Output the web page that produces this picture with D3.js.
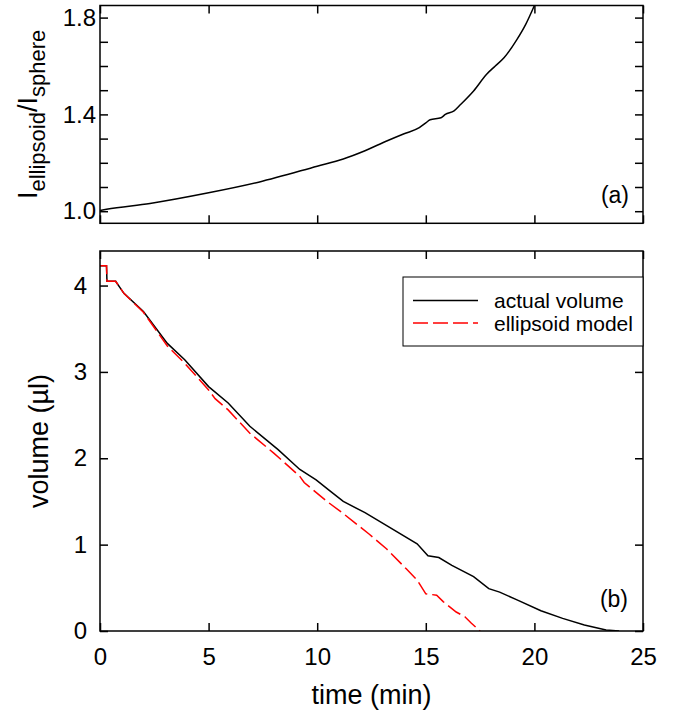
<!DOCTYPE html>
<head>
    <meta charset="utf-8">
    <script src="https://d3js.org/d3.v7.min.js"></script>
    <style>
      body { margin: 0; background: #fff; }
      text {
        font-family: "Liberation Sans", Arial, sans-serif;
        fill: #000;
      }
      .ticklabel { font-size: 24px; }
      .axistitle { font-size: 27px; }
      .legendtext { font-size: 21px; }
      .panellabel { font-size: 23px; }
    </style>
</head>
<body>
    <script>
        // panel (a): intensity ratio vs time
        var timeA  = [0, 0.3, 2.3, 5.0, 7.3, 10, 11.2, 12.2, 13.2, 14.0, 14.7, 15.0, 15.2, 15.7, 15.9, 16.3, 16.6, 17.2, 17.8, 18.2, 18.6, 19.2, 19.6, 20.0];
        var ratioA = [1.003, 1.008, 1.032, 1.076, 1.12, 1.186, 1.216, 1.25, 1.29, 1.32, 1.345, 1.365, 1.378, 1.386, 1.40, 1.415, 1.441, 1.497, 1.566, 1.60, 1.634, 1.71, 1.772, 1.85];

        // panel (b): actual volume
        var timeActual = [0, 0.3, 0.32, 0.72, 1.1, 2.0, 3.1, 3.9, 5.0, 5.9, 6.9, 8.2, 9.2, 9.95, 10.6, 11.2, 12.2, 13.2, 14.6, 15.1, 15.6, 16.2, 17.2, 17.9, 18.4, 19.2, 20.3, 21.3, 22.3, 23.3, 23.9];
        var volActual  = [4.23, 4.23, 4.05, 4.05, 3.91, 3.70, 3.33, 3.14, 2.83, 2.64, 2.37, 2.10, 1.87, 1.75, 1.62, 1.50, 1.37, 1.22, 1.01, 0.87, 0.85, 0.76, 0.63, 0.49, 0.45, 0.36, 0.235, 0.146, 0.07, 0.012, 0];

        // panel (b): ellipsoid model
        var timeModel = [0, 0.3, 0.32, 0.72, 1.1, 2.0, 3.1, 3.9, 5.0, 5.3, 5.9, 6.9, 8.0, 9.2, 9.4, 10.4, 11.2, 12.4, 13.2, 14.1, 14.6, 15.0, 15.5, 15.8, 16.4, 16.8, 17.1, 17.5];
        var volModel  = [4.23, 4.23, 4.05, 4.05, 3.91, 3.69, 3.30, 3.10, 2.79, 2.69, 2.56, 2.29, 2.06, 1.79, 1.72, 1.51, 1.36, 1.12, 0.95, 0.72, 0.59, 0.43, 0.415, 0.34, 0.22, 0.165, 0.09, 0];

        var xTicks = [0, 5, 10, 15, 20, 25];
        var yTicksA = [1.0, 1.1, 1.2, 1.3, 1.4, 1.5, 1.6, 1.7, 1.8];
        var yLabelsA = [1.0, 1.4, 1.8];
        var yTicksB = [0, 1, 2, 3, 4];
        var legendNames = ["actual volume", "ellipsoid model"];

        var svg_w = 674, svg_h = 716;
        var left = 100, right = 643;
        var topA = 5.5, bottomA = 223.3;
        var topB = 251, bottomB = 631;

        var svgContainer = d3.select("body")
          .append("svg")
          .attr("width", svg_w)
          .attr("height", svg_h);

        var x = d3.scaleLinear().domain([0, 25]).range([left, right]);
        var yA = d3.scaleLinear().domain([0.95, 1.85]).range([bottomA, topA]);
        var yB = d3.scaleLinear().domain([0, 4.4]).range([bottomB, topB]);

        svgContainer.append("clipPath").attr("id", "clipA")
          .append("rect").attr("x", left).attr("y", topA)
          .attr("width", right - left).attr("height", bottomA - topA);
        svgContainer.append("clipPath").attr("id", "clipB")
          .append("rect").attr("x", left).attr("y", topB)
          .attr("width", right - left).attr("height", bottomB - topB);

        function styleAxis(g) {
          g.select(".domain").remove();
          g.selectAll(".tick line").attr("stroke", "#000").attr("stroke-width", 1.5);
          g.selectAll(".tick text").attr("class", "ticklabel").attr("font-family", null).attr("font-size", null);
        }

        // ---- panel (a)
        var fmtA = d3.format(".1f");
        svgContainer.append("g")
          .attr("transform", "translate(" + left + ",0)")
          .call(d3.axisLeft(yA).tickValues(yTicksA).tickSize(-8).tickPadding(4)
            .tickFormat(function(d) { return yLabelsA.some(function(v) { return Math.abs(v - d) < 1e-6; }) ? fmtA(d) : ""; }))
          .call(styleAxis);
        svgContainer.append("g")
          .attr("transform", "translate(" + right + ",0)")
          .call(d3.axisRight(yA).tickValues(yTicksA).tickSize(-8).tickFormat(""))
          .call(styleAxis);
        svgContainer.append("g")
          .attr("transform", "translate(0," + bottomA + ")")
          .call(d3.axisBottom(x).tickValues(xTicks).tickSize(-8).tickFormat(""))
          .call(styleAxis);
        svgContainer.append("g")
          .attr("transform", "translate(0," + topA + ")")
          .call(d3.axisTop(x).tickValues(xTicks).tickSize(-8).tickFormat(""))
          .call(styleAxis);

        var lineA = d3.line()
          .x(function(d, i) { return x(timeA[i]); })
          .y(function(d) { return yA(d); })
          .curve(d3.curveMonotoneX);
        svgContainer.append("path")
          .datum(ratioA)
          .attr("clip-path", "url(#clipA)")
          .attr("fill", "none")
          .attr("stroke", "#000")
          .attr("stroke-width", 1.5)
          .attr("d", lineA);

        svgContainer.append("rect")
          .attr("x", left).attr("y", topA)
          .attr("width", right - left).attr("height", bottomA - topA)
          .attr("fill", "none").attr("stroke", "#000").attr("stroke-width", 1.5);

        svgContainer.append("text")
          .attr("class", "panellabel")
          .attr("x", 629).attr("y", 203)
          .attr("text-anchor", "end")
          .text("(a)");

        var titleA = svgContainer.append("text")
          .attr("class", "axistitle")
          .attr("font-size", "30px")
          .attr("text-anchor", "middle")
          .attr("transform", "translate(37," + ((topA + bottomA) / 2) + ") rotate(-90)");
        titleA.append("tspan").text("I");
        titleA.append("tspan").attr("dy", 8).attr("font-size", "22px").text("ellipsoid");
        titleA.append("tspan").attr("dy", -8).text("/I");
        titleA.append("tspan").attr("dy", 8).attr("font-size", "22px").text("sphere");

        // ---- panel (b)
        svgContainer.append("g")
          .attr("transform", "translate(" + left + ",0)")
          .call(d3.axisLeft(yB).tickValues(yTicksB).tickSize(-8).tickPadding(13).tickFormat(d3.format("d")))
          .call(styleAxis);
        svgContainer.append("g")
          .attr("transform", "translate(" + right + ",0)")
          .call(d3.axisRight(yB).tickValues(yTicksB).tickSize(-8).tickFormat(""))
          .call(styleAxis);
        svgContainer.append("g")
          .attr("transform", "translate(0," + bottomB + ")")
          .call(d3.axisBottom(x).tickValues(xTicks).tickSize(-8).tickPadding(17).tickFormat(d3.format("d")))
          .call(styleAxis);
        svgContainer.append("g")
          .attr("transform", "translate(0," + topB + ")")
          .call(d3.axisTop(x).tickValues(xTicks).tickSize(-8).tickFormat(""))
          .call(styleAxis);

        var lineActual = d3.line()
          .x(function(d, i) { return x(timeActual[i]); })
          .y(function(d) { return yB(d); });
        var lineModel = d3.line()
          .x(function(d, i) { return x(timeModel[i]); })
          .y(function(d) { return yB(d); });

        svgContainer.append("path")
          .datum(volActual)
          .attr("clip-path", "url(#clipB)")
          .attr("fill", "none")
          .attr("stroke", "#000")
          .attr("stroke-width", 1.5)
          .attr("d", lineActual);
        svgContainer.append("path")
          .datum(volModel)
          .attr("clip-path", "url(#clipB)")
          .attr("fill", "none")
          .attr("stroke", "#ff0000")
          .attr("stroke-width", 1.5)
          .attr("stroke-dasharray", "15,5")
          .attr("d", lineModel);

        svgContainer.append("rect")
          .attr("x", left).attr("y", topB)
          .attr("width", right - left).attr("height", bottomB - topB)
          .attr("fill", "none").attr("stroke", "#000").attr("stroke-width", 1.5);

        // legend
        var legend = svgContainer.append("g").attr("transform", "translate(403,277)");
        legend.append("rect")
          .attr("width", 240).attr("height", 69)
          .attr("fill", "#fff").attr("stroke", "#000").attr("stroke-width", 1);
        legend.selectAll(".legendline")
          .data(legendNames)
          .enter()
          .append("line")
          .attr("x1", 10).attr("x2", 75)
          .attr("y1", function(d, i) { return 23.5 + i * 22.5; })
          .attr("y2", function(d, i) { return 23.5 + i * 22.5; })
          .attr("stroke", function(d, i) { return i == 0 ? "#000" : "#ff0000"; })
          .attr("stroke-width", 1.5)
          .attr("stroke-dasharray", function(d, i) { return i == 0 ? null : "15,5"; });
        legend.selectAll(".legendtext")
          .data(legendNames)
          .enter()
          .append("text")
          .attr("class", "legendtext")
          .attr("x", 91)
          .attr("y", function(d, i) { return 31 + i * 22.5; })
          .text(function(d) { return d; });

        svgContainer.append("text")
          .attr("class", "panellabel")
          .attr("x", 628).attr("y", 607)
          .attr("text-anchor", "end")
          .text("(b)");

        svgContainer.append("text")
          .attr("class", "axistitle")
          .attr("font-size", "28px")
          .attr("text-anchor", "middle")
          .attr("transform", "translate(48," + ((topB + bottomB) / 2) + ") rotate(-90)")
          .text("volume (\u00b5l)");

        svgContainer.append("text")
          .attr("class", "axistitle")
          .attr("text-anchor", "middle")
          .attr("x", (left + right) / 2)
          .attr("y", 704)
          .text("time (min)");
    </script>
</body>
